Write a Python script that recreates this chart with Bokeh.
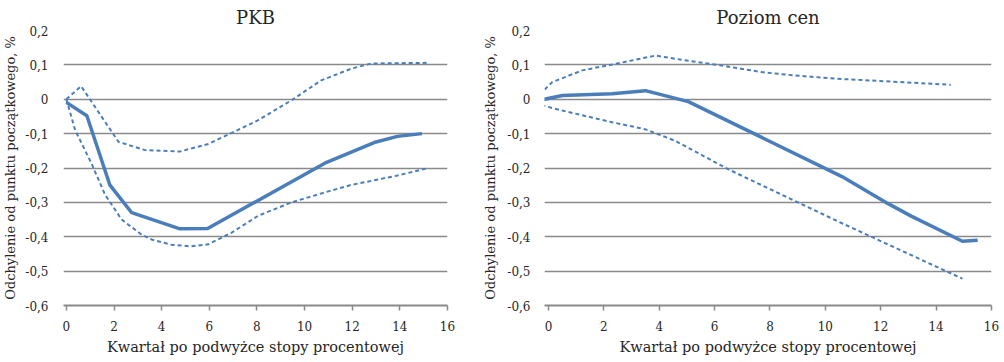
from bokeh.plotting import figure
from bokeh.layouts import row
from bokeh.models import FixedTicker, Range1d
from bokeh.embed import file_html
from bokeh.resources import INLINE

# ---------------- data ----------------
titles = ["PKB", "Poziom cen"]
y_label = "Odchylenie od punktu początkowego, %"
x_label = "Kwartał po podwyżce stopy procentowej"

y_ticks = [-0.6, -0.5, -0.4, -0.3, -0.2, -0.1, 0.0, 0.1, 0.2]
y_tick_labels = ["-0,6", "-0,5", "-0,4", "-0,3", "-0,2", "-0,1", "0", "0,1", "0,2"]
x_ticks = [0, 2, 4, 6, 8, 10, 12, 14, 16]

# PKB
pkb_mid_x = [0, 0.86, 1.83, 2.74, 4.77, 5.93, 10.85, 12.92, 13.9, 14.93]
pkb_mid_y = [-0.009, -0.048, -0.25, -0.33, -0.377, -0.376, -0.186, -0.126, -0.108, -0.1]
pkb_up_x = [0, 0.62, 2.19, 3.3, 4.77, 5.96, 6.94, 8.05, 9.45, 10.7, 11.96, 12.8, 15.2]
pkb_up_y = [0, 0.038, -0.124, -0.148, -0.152, -0.13, -0.098, -0.061, -0.003, 0.055, 0.089, 0.104, 0.106]
pkb_lo_x = [0, 0.37, 1.07, 1.62, 2.32, 3.16, 3.58, 4.4, 5.24, 5.96, 6.94, 8.05, 9.45, 10.85, 11.97, 13.9, 15.2]
pkb_lo_y = [0, -0.09, -0.189, -0.277, -0.35, -0.394, -0.408, -0.423, -0.428, -0.422, -0.388, -0.339, -0.30, -0.271, -0.249, -0.222, -0.2]

# Poziom cen
cen_mid_x = [-0.5, 0.5, 2.3, 3.5, 5.05, 10.6, 12.25, 13.1, 14.95, 15.5]
cen_mid_y = [-0.006, 0.011, 0.016, 0.025, -0.007, -0.225, -0.303, -0.34, -0.413, -0.41]
cen_up_x = [-0.5, 0.14, 1.22, 2.3, 3.86, 4.8, 6.26, 7.7, 8.9, 10.58, 14.53]
cen_up_y = [0.0, 0.05, 0.084, 0.101, 0.127, 0.115, 0.098, 0.079, 0.069, 0.059, 0.042]
cen_lo_x = [-0.5, 0.5, 2.3, 3.48, 4.58, 6.5, 10.58, 14.95]
cen_lo_y = [-0.012, -0.033, -0.067, -0.087, -0.121, -0.204, -0.36, -0.522]

# ---------------- style ----------------
FONT = "DejaVu Serif"
TXT = "#262626"
GRID = "#8a8a8a"
BLUE = "#4a7ebb"


def make_panel(title, series, width, b_left, b_right, x_start, ystand, ylab_stand):
    b_top, b_bottom = 30, 57
    p = figure(width=width, height=362, output_backend="svg",
               toolbar_location=None, title=title,
               x_range=Range1d(x_start, 16), y_range=Range1d(-0.6, 0.2),
               min_border_left=b_left, min_border_right=b_right,
               min_border_top=b_top, min_border_bottom=b_bottom,
               background_fill_color="white", border_fill_color="white")
    p.outline_line_color = None
    p.title.align = "center"
    p.title.text_font = FONT
    p.title.text_font_size = "18px"
    p.title.text_font_style = "normal"
    p.title.text_color = TXT
    p.title.standoff = 5

    p.xgrid.grid_line_color = None
    p.ygrid.grid_line_color = GRID
    p.ygrid.grid_line_width = 1.5
    p.ygrid.ticker = FixedTicker(ticks=y_ticks)

    p.yaxis.ticker = FixedTicker(ticks=y_ticks)
    p.yaxis.major_label_overrides = {t: l for t, l in zip(y_ticks, y_tick_labels)}
    p.yaxis.axis_line_color = None
    p.yaxis.major_tick_line_color = None
    p.yaxis.minor_tick_line_color = None
    p.yaxis.major_label_standoff = ystand
    p.yaxis.axis_label = y_label
    p.yaxis.axis_label_standoff = ylab_stand

    p.xaxis.ticker = FixedTicker(ticks=x_ticks)
    p.xaxis.axis_line_color = GRID
    p.xaxis.axis_line_width = 2
    p.xaxis.major_tick_line_color = GRID
    p.xaxis.major_tick_line_width = 1.5
    p.xaxis.major_tick_in = 0
    p.xaxis.major_tick_out = 5
    p.xaxis.minor_tick_line_color = None
    p.xaxis.major_label_standoff = 10
    p.xaxis.axis_label = x_label
    p.xaxis.axis_label_standoff = 5

    for ax in (p.xaxis, p.yaxis):
        ax.major_label_text_font = FONT
        ax.major_label_text_font_size = "12px"
        ax.major_label_text_color = TXT
        ax.axis_label_text_font = FONT
        ax.axis_label_text_font_style = "normal"
        ax.axis_label_text_color = TXT
    p.xaxis.axis_label_text_font_size = "14.5px"
    p.yaxis.axis_label_text_font_size = "13px"

    (mx, my), (ux, uy), (lx, ly) = series
    p.line(ux, uy, line_color=BLUE, line_width=2, line_dash="4 3")
    p.line(lx, ly, line_color=BLUE, line_width=2, line_dash="4 3")
    p.line(mx, my, line_color=BLUE, line_width=3.5, line_join="round")
    return p


p1 = make_panel(titles[0],
                [(pkb_mid_x, pkb_mid_y), (pkb_up_x, pkb_up_y), (pkb_lo_x, pkb_lo_y)],
                width=480, b_left=62, b_right=33, x_start=-0.12, ystand=9, ylab_stand=4)
p2 = make_panel(titles[1],
                [(cen_mid_x, cen_mid_y), (cen_up_x, cen_up_y), (cen_lo_x, cen_lo_y)],
                width=524, b_left=62, b_right=13, x_start=-0.144, ystand=8, ylab_stand=6)

layout = row(p1, p2)
open("out.html", "w").write(file_html(layout, INLINE))
